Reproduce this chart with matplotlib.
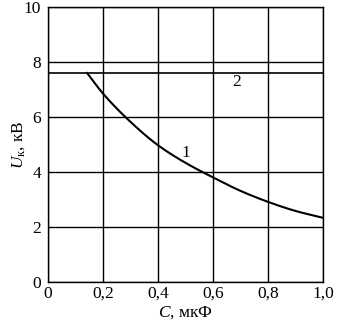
import matplotlib
matplotlib.use("Agg")
import matplotlib.pyplot as plt
import numpy as np

plt.rcParams['font.family'] = ['Liberation Serif', 'DejaVu Serif']
plt.rcParams['mathtext.fontset'] = 'custom'
plt.rcParams['mathtext.rm'] = 'Liberation Serif'
plt.rcParams['mathtext.it'] = 'Liberation Serif:italic'

# Curve 1: U_k vs C
c1 = [0.142, 0.2, 0.3, 0.4, 0.5, 0.6, 0.7, 0.8, 0.9, 1.0]
u1 = [7.6, 6.85, 5.82, 4.97, 4.33, 3.8, 3.31, 2.91, 2.58, 2.33]
# Curve 2: constant level
c2 = [0.0, 1.0]
u2 = [7.6, 7.6]

xticks = [0, 0.2, 0.4, 0.6, 0.8, 1.0]
xticklabels = ['0', '0,2', '0,4', '0,6', '0,8', '1,0']
yticks = [0, 2, 4, 6, 8, 10]

fig = plt.figure(figsize=(3.46, 3.24), dpi=100)
ax = fig.add_axes([0.139, 0.130, 0.795, 0.848])

xs = np.array(c1); ys = np.array(u1)

def pchip(x, y, xn):
    h = np.diff(x); d = np.diff(y) / h
    m = np.zeros_like(y)
    for k in range(1, len(x) - 1):
        if d[k-1] * d[k] > 0:
            w1 = 2*h[k] + h[k-1]; w2 = h[k] + 2*h[k-1]
            m[k] = (w1 + w2) / (w1/d[k-1] + w2/d[k])
    m[0] = d[0]; m[-1] = d[-1]
    out = np.empty_like(xn)
    for i, xv in enumerate(xn):
        k = min(np.searchsorted(x, xv) - 1, len(x) - 2); k = max(k, 0)
        t = (xv - x[k]) / h[k]
        h00 = 2*t**3 - 3*t**2 + 1; h10 = t**3 - 2*t**2 + t
        h01 = -2*t**3 + 3*t**2; h11 = t**3 - t**2
        out[i] = h00*y[k] + h10*h[k]*m[k] + h01*y[k+1] + h11*h[k]*m[k+1]
    return out

xn = np.linspace(xs[0], xs[-1], 300)
ax.plot(xn, pchip(xs, ys, xn), color='black', lw=1.5)
ax.plot(c2, u2, color='black', lw=1.2)

ax.set_xlim(0, 1.0)
ax.set_ylim(0, 10)
ax.set_xticks(xticks)
ax.set_xticklabels(xticklabels)
ax.set_yticks(yticks)
ax.grid(True, color='black', lw=1.0)
ax.tick_params(length=0, labelsize=12.5, pad=5)
ax.tick_params(axis='x', pad=3)
for s in ax.spines.values():
    s.set_linewidth(1.0)

ax.text(0.50, 4.69, '1', fontsize=12.5, ha='center', va='center')
ax.text(0.685, 7.26, '2', fontsize=12.5, ha='center', va='center')

ax.set_xlabel(r'$\mathit{C}$, мкФ', fontsize=12.5)
ax.set_ylabel(r'$\mathit{U}_{\mathrm{к}}$, кВ', fontsize=12.5)
ax.xaxis.set_label_coords(0.5, -0.083)
ax.yaxis.set_label_coords(-0.075, 0.5)

fig.savefig('out.png', dpi=100)
